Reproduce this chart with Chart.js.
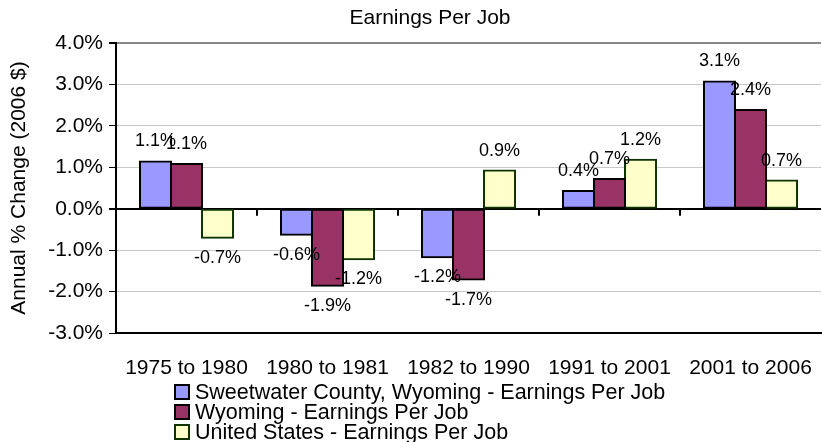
<!DOCTYPE html>
<html>
<head>
<meta charset="utf-8">
<script src="https://cdn.jsdelivr.net/npm/chart.js@4/dist/chart.umd.min.js"></script>
<style>
  html, body { margin: 0; padding: 0; background: #fff; }
  #wrap { width: 822px; height: 442px; }
</style>
</head>
<body>
<div id="wrap"><canvas id="chart" width="822" height="442"></canvas></div>
<script>
// ── Data ──────────────────────────────────────────────────────────────────────
const categories = ["1975 to 1980", "1980 to 1981", "1982 to 1990", "1991 to 2001", "2001 to 2006"];
const sweetwater = [1.14, -0.63, -1.17, 0.43, 3.07];
const wyoming    = [1.08, -1.86, -1.71, 0.72, 2.38];
const usa        = [-0.70, -1.22, 0.92, 1.18, 0.68];
const yTicks     = [-3, -2, -1, 0, 1, 2, 3, 4];

const FONT = "'Liberation Sans', Arial, Helvetica, sans-serif";

// ── Plugins ───────────────────────────────────────────────────────────────────
const titlePlugin = {
  id: "titleText",
  afterDraw(chart) {
    const ctx = chart.ctx;
    ctx.save();
    ctx.font = `21px ${FONT}`;
    ctx.fillStyle = "#000";
    ctx.textAlign = "center";
    ctx.textBaseline = "middle";
    ctx.fillText("Earnings Per Job", 430, 18);
    ctx.restore();
  }
};

// value labels above / below each bar
const valueLabels = {
  id: "valueLabels",
  afterDatasetsDraw(chart) {
    const ctx = chart.ctx;
    ctx.save();
    ctx.font = `18px ${FONT}`;
    ctx.fillStyle = "#000";
    ctx.textAlign = "center";
    ctx.textBaseline = "middle";
    chart.data.datasets.forEach((ds, i) => {
      chart.getDatasetMeta(i).data.forEach((bar, j) => {
        const v = ds.data[j];
        const y = v >= 0 ? bar.y - 20 : bar.y + 20;
        ctx.fillText(v.toFixed(1) + "%", bar.x, y);
      });
    });
    ctx.restore();
  }
};

// category tick marks on the zero line
const zeroTicks = {
  id: "zeroTicks",
  afterDatasetsDraw(chart) {
    const { ctx, scales: { x, y } } = chart;
    const y0 = y.getPixelForValue(0);
    ctx.save();
    ctx.strokeStyle = "#000";
    ctx.lineWidth = 2;
    for (let i = 1; i < categories.length; i++) {
      const px = (x.getPixelForTick(i - 1) + x.getPixelForTick(i)) / 2;
      ctx.beginPath();
      ctx.moveTo(px, y0);
      ctx.lineTo(px, y0 + 7);
      ctx.stroke();
    }
    ctx.restore();
  }
};

// stacked legend in the bottom-left corner
const stackedLegend = {
  id: "stackedLegend",
  afterDraw(chart) {
    const ctx = chart.ctx;
    ctx.save();
    ctx.font = `21.5px ${FONT}`;
    ctx.textBaseline = "middle";
    ctx.textAlign = "left";
    chart.data.datasets.forEach((ds, i) => {
      const cy = 392 + i * 20;
      ctx.fillStyle = ds.backgroundColor;
      ctx.fillRect(175, cy - 7, 14, 14);
      ctx.strokeStyle = ds.borderColor;
      ctx.lineWidth = 2;
      ctx.strokeRect(175, cy - 7, 14, 14);
      ctx.fillStyle = "#000";
      ctx.fillText(ds.label, 195, cy + 1);
    });
    ctx.restore();
  }
};

// ── Chart ─────────────────────────────────────────────────────────────────────
new Chart(document.getElementById("chart"), {
  type: "bar",
  data: {
    labels: categories,
    datasets: [
      { label: "Sweetwater County, Wyoming - Earnings Per Job", data: sweetwater,
        backgroundColor: "#9999ff", borderColor: "#000000" },
      { label: "Wyoming - Earnings Per Job", data: wyoming,
        backgroundColor: "#993366", borderColor: "#000000" },
      { label: "United States - Earnings Per Job", data: usa,
        backgroundColor: "#ffffcc", borderColor: "#0f3300" },
    ].map(d => ({ ...d, borderWidth: 2, borderSkipped: false, inflateAmount: 1,
                  categoryPercentage: 0.66, barPercentage: 1 })),
  },
  options: {
    responsive: false,
    animation: false,
    devicePixelRatio: 1,
    layout: { padding: { top: 43, right: 1, bottom: 0, left: 0 } },
    plugins: { legend: { display: false }, title: { display: false }, tooltip: { enabled: false } },
    scales: {
      x: {
        grid: { display: false },
        border: { display: true, color: "#000", width: 2 },
        ticks: { color: "#000", padding: 15, font: { family: FONT, size: 21 } },
        afterFit(s) { s.height = 109; s.paddingLeft = 0; s.paddingRight = 0; },
      },
      y: {
        min: -3, max: 4,
        afterBuildTicks(s) { s.ticks = yTicks.map(v => ({ value: v })); },
        ticks: {
          color: "#000", padding: 6,
          font: { family: FONT, size: 21 },
          callback: v => v.toFixed(1) + "%",
        },
        grid: {
          tickLength: 7,
          tickColor: "#000",
          color: c => c.tick.value === 0 ? "#000" : (c.tick.value === 4 ? "#888" : "#c8c8c8"),
          lineWidth: c => (c.tick.value === 0 || c.tick.value === 4) ? 2 : 1,
        },
        border: { display: true, color: "#000", width: 2 },
        title: {
          display: true, text: "Annual % Change (2006 $)", color: "#000",
          font: { family: FONT, size: 21 }, padding: { top: 7, bottom: 0 },
        },
        afterFit(s) { s.width = 116; s.paddingTop = 0; s.paddingBottom = 0; },
      },
    },
  },
  plugins: [valueLabels, zeroTicks, stackedLegend, titlePlugin],
});
</script>
</body>
</html>
